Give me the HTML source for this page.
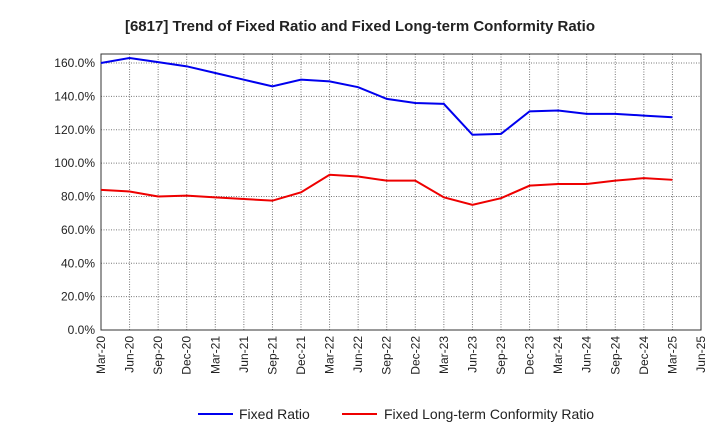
<!DOCTYPE html>
<html><head><meta charset="utf-8"><style>
body{margin:0;background:#fff;font-family:"Liberation Sans",Arial,sans-serif}
</style></head><body>
<svg id="c" width="720" height="440" xmlns="http://www.w3.org/2000/svg"></svg>
<script>
const categories=["Mar-20","Jun-20","Sep-20","Dec-20","Mar-21","Jun-21","Sep-21","Dec-21","Mar-22","Jun-22","Sep-22","Dec-22","Mar-23","Jun-23","Sep-23","Dec-23","Mar-24","Jun-24","Sep-24","Dec-24","Mar-25","Jun-25"];
const fixedRatio=[160,163,160.5,158,154,150,146,150,149,145.5,138.5,136,135.5,117,117.5,131,131.5,129.5,129.5,128.5,127.5];
const conformityRatio=[84,83,80,80.5,79.5,78.5,77.5,82.5,93,92,89.5,89.5,79.5,75,79,86.5,87.5,87.5,89.5,91,90];
const yTicks=[0,20,40,60,80,100,120,140,160];
const NS="http://www.w3.org/2000/svg";
const svg=document.getElementById('c');
const L=101,R=701,T=54,B=330;
const x=i=>L+i*(R-L)/(categories.length-1);
const y=v=>B-v*(330-63)/160;
function mk(t,a,p){const e=document.createElementNS(NS,t);for(const k in a)e.setAttribute(k,a[k]);(p||svg).appendChild(e);return e;}
const title=mk('text',{x:360,y:31,'text-anchor':'middle','font-size':15,'font-weight':'bold',fill:'#222'});
title.textContent="[6817]  Trend of Fixed Ratio and Fixed Long-term Conformity Ratio";


const grid=mk('g',{});


yTicks.forEach(v=>{
 mk('line',{x1:L,x2:R,y1:y(v),y2:y(v),stroke:'#777','stroke-dasharray':'1,1.5','stroke-width':1},grid);
 const t=mk('text',{x:L-6,y:y(v)+4,'text-anchor':'end','font-size':12,fill:'#222'});
 t.textContent=v.toFixed(1)+"%";
 
 
});
categories.forEach((c,i)=>{
 mk('line',{x1:x(i),x2:x(i),y1:T,y2:B,stroke:'#777','stroke-dasharray':'1,1.5','stroke-width':1},grid);
 const t=mk('text',{transform:`translate(${x(i)+4},${B+6}) rotate(-90)`,'text-anchor':'end','font-size':12,fill:'#222'});
 t.textContent=c;
 
 
});
const frame=mk('rect',{x:L,y:T,width:R-L,height:B-T,fill:'none',stroke:'#333'});


function line(d,col,name){
 const p=mk('polyline',{points:d.map((v,i)=>x(i)+','+y(v)).join(' '),fill:'none',stroke:col,'stroke-width':2});
 
 
}
line(fixedRatio,'#0000ee','fixed-ratio-line');
line(conformityRatio,'#ee0000','conformity-ratio-line');
const lg=mk('g',{});


mk('line',{x1:198,x2:233,y1:414,y2:414,stroke:'#0000ee','stroke-width':2},lg);
const t1=mk('text',{x:239,y:419,'font-size':14,fill:'#222'},lg);t1.textContent="Fixed Ratio";


mk('line',{x1:342,x2:377,y1:414,y2:414,stroke:'#ee0000','stroke-width':2},lg);
const t2=mk('text',{x:384,y:419,'font-size':14,fill:'#222'},lg);t2.textContent="Fixed Long-term Conformity Ratio";


</script>
</body></html>
